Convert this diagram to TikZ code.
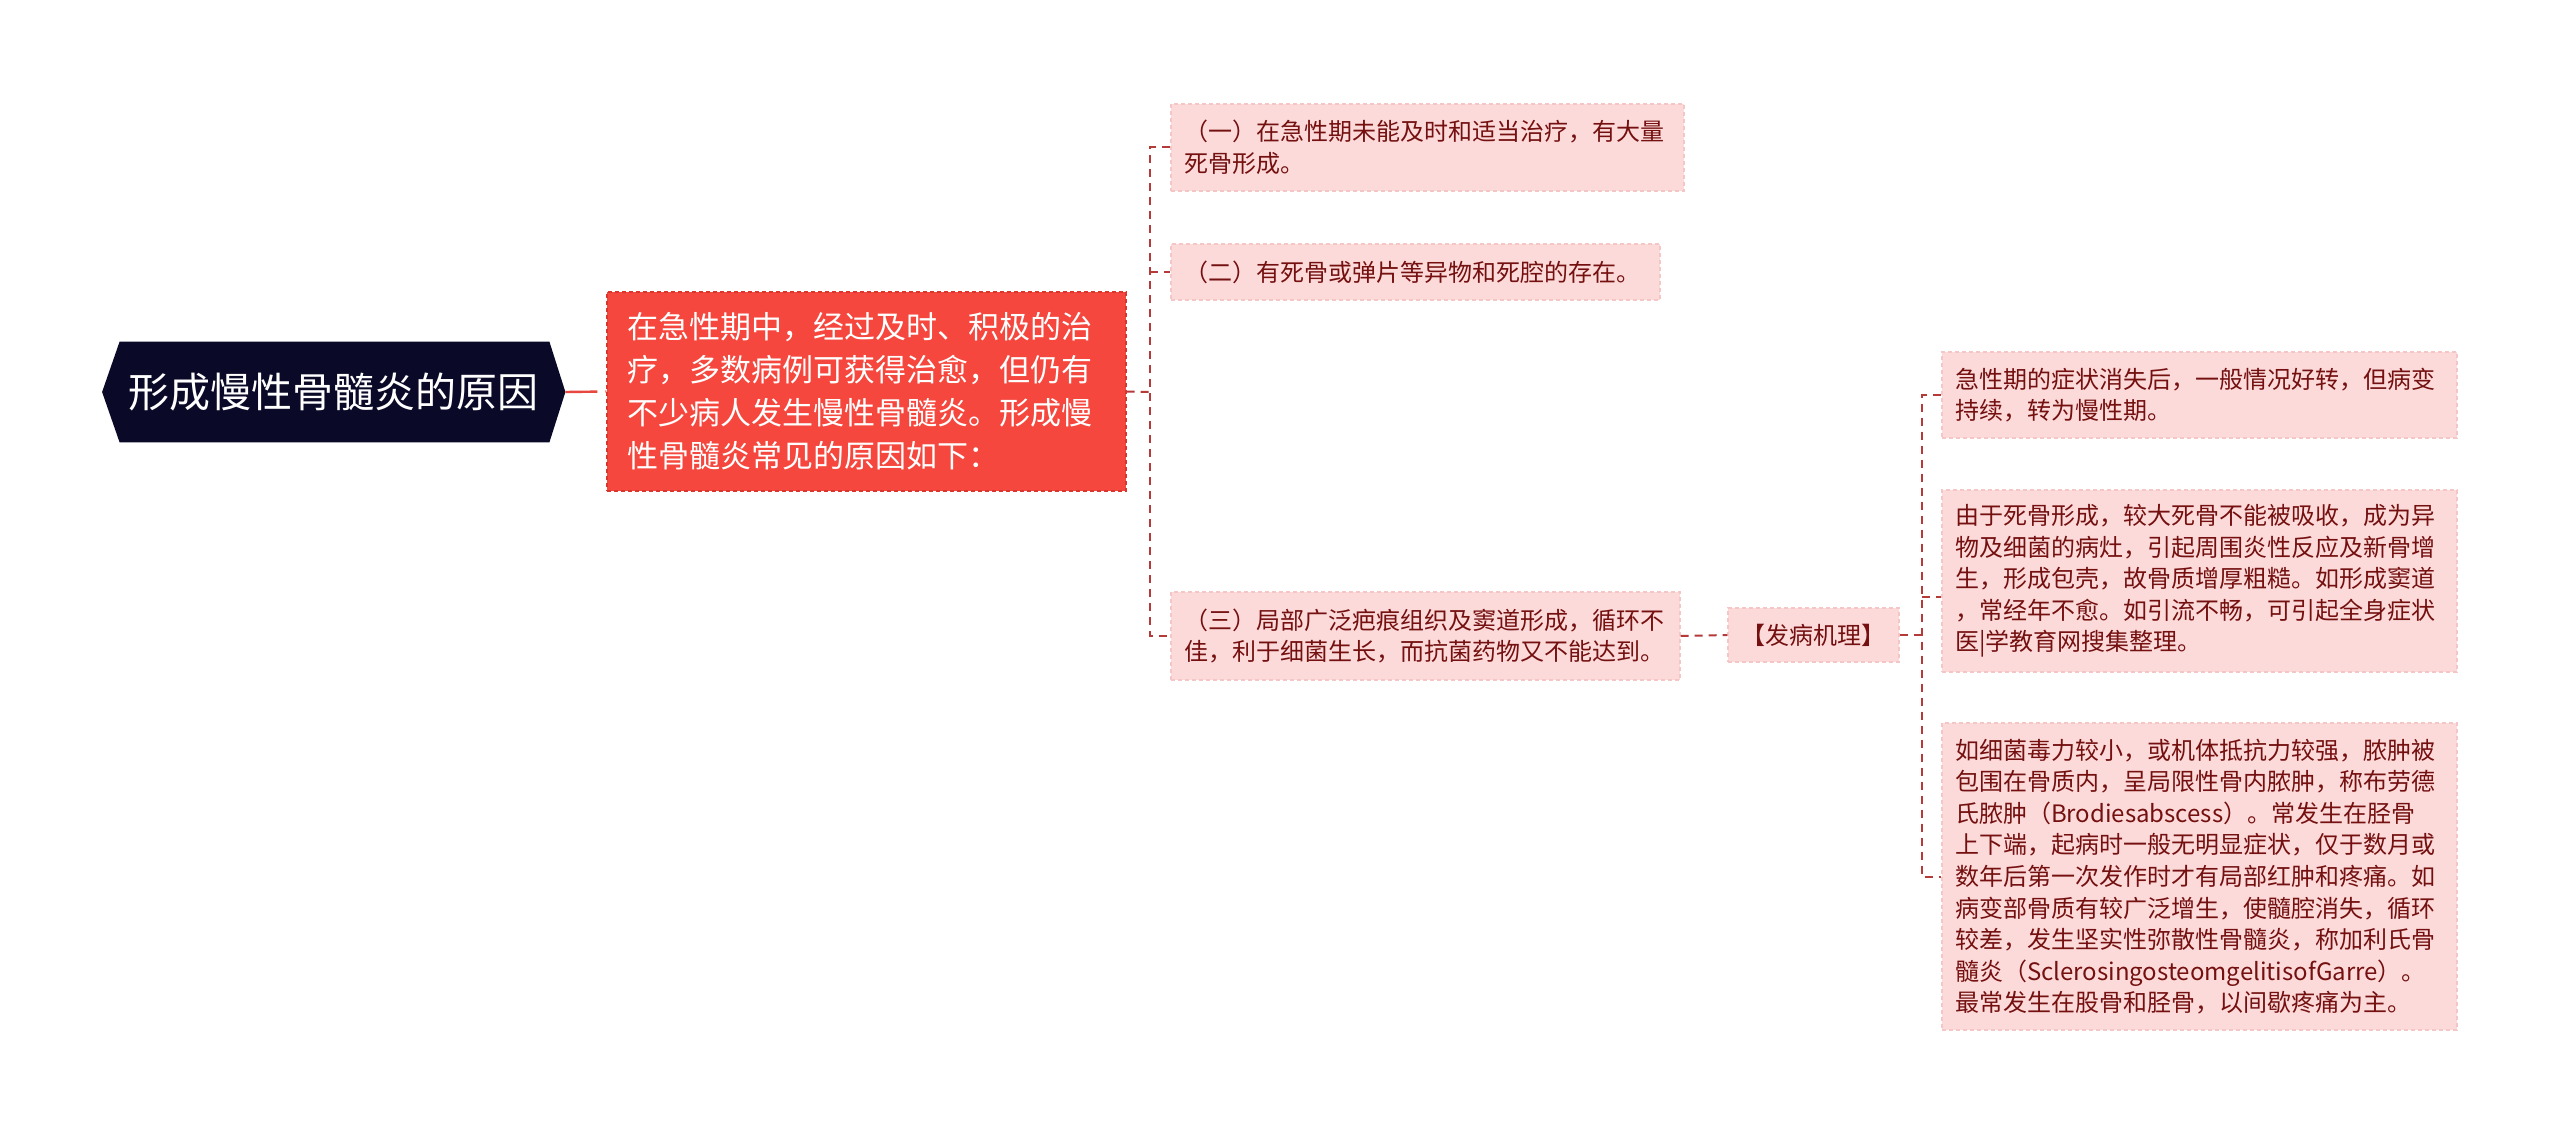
\documentclass[tikz,border=0pt]{standalone}
\usepackage{fontspec}
\setmainfont{Noto Sans CJK SC}
\usetikzlibrary{backgrounds}
\definecolor{rootfill}{HTML}{0A0A28}
\definecolor{redfill}{HTML}{F5473D}
\definecolor{redborder}{HTML}{D9372E}
\definecolor{pinkfill}{HTML}{FDDADA}
\definecolor{pinkborder}{HTML}{F4C6C6}
\definecolor{darkred}{HTML}{741010}
\definecolor{connc}{HTML}{B53A3A}
\definecolor{rootline}{HTML}{E8473F}
\tikzset{
  pinkbox/.style={draw=pinkborder, fill=pinkfill, dash pattern=on 2pt off 1.5pt,
    line width=0.6pt, text=darkred, font=\fontsize{12}{15.8}\selectfont,
    align=left, inner xsep=6.5pt, inner ysep=0pt, anchor=center},
  redbox/.style={draw=redborder, fill=redfill, dash pattern=on 2pt off 1.5pt,
    line width=0.6pt, text=white, font=\fontsize{15.5}{21.5}\selectfont,
    align=left, inner xsep=10pt, inner ysep=0pt, anchor=center},
  rootbox/.style={text=white, font=\fontsize{20.5}{24}\selectfont, inner sep=0pt,
    minimum width=231.25pt, minimum height=50pt, anchor=center},
  conn/.style={draw=connc, line width=1pt, dash pattern=on 4pt off 3pt},
  rootconn/.style={draw=rootline, line width=1.2pt, dash pattern=on 16pt off 4pt}
}
\begin{document}
\begin{tikzpicture}[x=0.5pt,y=-0.5pt]
\useasboundingbox (0,0) rectangle (2560,1134);

% root
\node[rootbox] (root) at (333.75,392) {形成慢性骨髓炎的原因};
\begin{scope}[on background layer]
\fill[white] (0,0) rectangle (2560,1134);
\fill[rootfill] (root.west) -- ([xshift=8.75pt]root.north west) -- ([xshift=-8pt]root.north east)
  -- (root.east) -- ([xshift=-8pt]root.south east) -- ([xshift=8.75pt]root.south west) -- cycle;
\end{scope}

% red node
\node[redbox, text width=239.5pt, minimum height=99.5pt] (red) at (866.5,391.5)
  {在急性期中，经过及时、积极的治\\疗，多数病例可获得治愈，但仍有\\不少病人发生慢性骨髓炎。形成慢\\性骨髓炎常见的原因如下：};

% children
\node[pinkbox, text width=243.5pt, minimum height=43.5pt] (c1) at (1427.5,147.5)
  {（一）在急性期未能及时和适当治疗，有大量\\死骨形成。};
\node[pinkbox, text width=231.5pt, minimum height=28pt] (c2) at (1415.5,272)
  {（二）有死骨或弹片等异物和死腔的存在。};
\node[pinkbox, text width=241.5pt, minimum height=44pt] (c3) at (1425.5,636)
  {（三）局部广泛疤痕组织及窦道形成，循环不\\佳，利于细菌生长，而抗菌药物又不能达到。};

% 发病机理
\node[pinkbox, align=center, inner xsep=0pt, minimum width=85.5pt, minimum height=27pt] (fb) at (1813.5,635)
  {【发病机理】};

% grandchildren
\node[pinkbox, text width=244.5pt, minimum height=43pt] (ga) at (2199.5,395)
  {急性期的症状消失后，一般情况好转，但病变\\持续，转为慢性期。};
\node[pinkbox, text width=244.5pt, minimum height=91pt] (gb) at (2199.5,581)
  {由于死骨形成，较大死骨不能被吸收，成为异\\物及细菌的病灶，引起周围炎性反应及新骨增\\生，形成包壳，故骨质增厚粗糙。如形成窦道\\，常经年不愈。如引流不畅，可引起全身症状\\医|学教育网搜集整理。};
\node[pinkbox, text width=244.5pt, minimum height=153.5pt] (gc) at (2199.5,876.5)
  {如细菌毒力较小，或机体抵抗力较强，脓肿被\\包围在骨质内，呈局限性骨内脓肿，称布劳德\\氏脓肿（Brodiesabscess）。常发生在胫骨\\上下端，起病时一般无明显症状，仅于数月或\\数年后第一次发作时才有局部红肿和疼痛。如\\病变部骨质有较广泛增生，使髓腔消失，循环\\较差，发生坚实性弥散性骨髓炎，称加利氏骨\\髓炎（SclerosingosteomgelitisofGarre）。\\最常发生在股骨和胫骨，以间歇疼痛为主。};

% junction coordinates
\coordinate (j1) at (1150,392);
\coordinate (j2) at (1922,635);
\coordinate (gbin) at ([yshift=-8pt]gb.west);

% connectors
\draw[rootconn] (root.east) -- (red.west);
\draw[conn] (red.east) -- (j1);
\draw[conn] (c1.west) -- (j1 |- c1.west) -- (j1 |- c3.west) -- (c3.west);
\draw[conn] (j1 |- c2.west) -- (c2.west);
\draw[conn] (c3.east) -- (fb.west);
\draw[conn] (fb.east) -- (j2);
\draw[conn] (ga.west) -- (j2 |- ga.west) -- (j2 |- gc.west) -- (gc.west);
\draw[conn] (j2 |- gbin) -- (gbin);
\end{tikzpicture}
\end{document}
